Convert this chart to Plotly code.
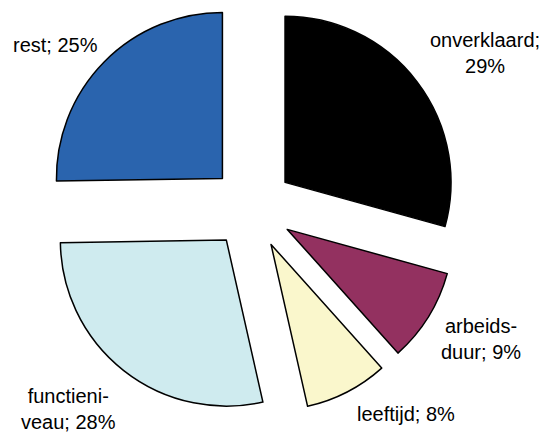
import plotly.graph_objects as go

labels = ["onverklaard", "arbeidsduur", "leeftijd", "functieniveau", "rest"]
display_labels = ["onverklaard;<br>29%", "arbeids-<br>duur; 9%", "leeftijd; 8%", "functieni-<br>veau; 28%", "rest; 25%"]
values = [29, 9, 8, 28, 25]
colors = ["#000000", "#933160", "#FAF7CC", "#CFEBEF", "#2A64AE"]

# label anchor positions in pixels (layout only)
label_pos_px = [(485, 53), (481, 338.5), (406, 414), (68, 408.5), (55.5, 45)]

W, H = 544, 432

fig = go.Figure(go.Pie(
    labels=labels,
    values=values,
    textinfo="none",
    sort=False,
    direction="clockwise",
    rotation=0,
    pull=[0.25] * len(values),
    marker=dict(colors=colors, line=dict(color="#000000", width=1.5)),
    domain=dict(x=[0, 504 / W], y=[17 / H, 1]),
    hoverinfo="label+percent",
))

annotations = []
for txt, (px, py) in zip(display_labels, label_pos_px):
    annotations.append(dict(
        text=txt, x=px / W, y=1 - py / H, xref="paper", yref="paper",
        xanchor="center", yanchor="middle", showarrow=False, align="center",
        font=dict(family="Arial, Liberation Sans, sans-serif", size=20, color="#000000"),
    ))

fig.update_layout(
    width=W,
    height=H,
    showlegend=False,
    margin=dict(l=0, r=0, t=0, b=0),
    paper_bgcolor="#FFFFFF",
    plot_bgcolor="#FFFFFF",
    annotations=annotations,
)

fig.write_html("out.html", config={"displayModeBar": False},
               post_script="document.body.style.margin='0';")
